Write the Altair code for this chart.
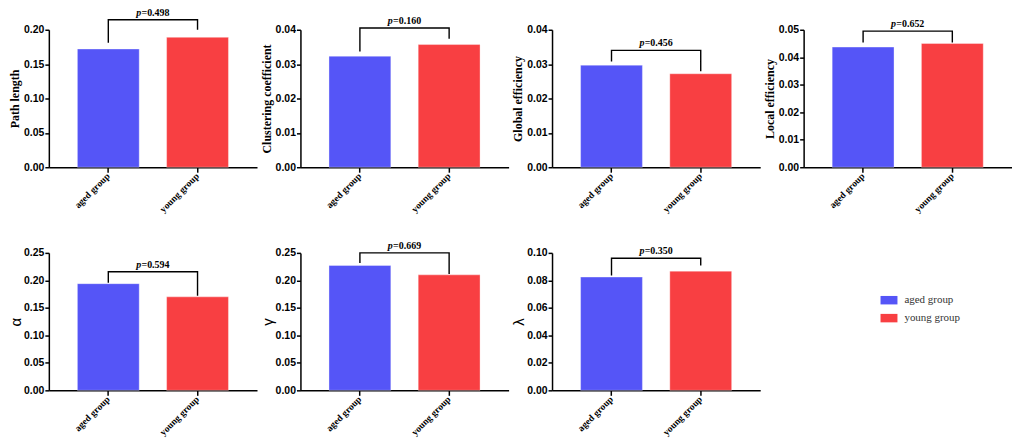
import altair as alt
import pandas as pd
import numpy as np

groups = ["aged group", "young group"]
colors = ["#5555F7", "#F83F42"]

titles = ["Path length", "Clustering coefficient", "Global efficiency", "Local efficiency", "α", "γ", "λ"]
aged = [0.172, 0.0323, 0.0297, 0.0437, 0.194, 0.227, 0.0824]
young = [0.189, 0.0357, 0.0272, 0.0450, 0.170, 0.210, 0.0867]
p_values = ["0.498", "0.160", "0.456", "0.652", "0.594", "0.669", "0.350"]
y_max = [0.20, 0.04, 0.04, 0.05, 0.25, 0.25, 0.10]
y_step = [0.05, 0.01, 0.01, 0.01, 0.05, 0.05, 0.02]
bracket_top = [0.2145, 0.0405, 0.0340, 0.0495, 0.2157, 0.2500, 0.0961]
bracket_left = [0.181, 0.0337, 0.0308, 0.0454, 0.1959, 0.2314, 0.0836]
bracket_right = [0.200, 0.0374, 0.0279, 0.0454, 0.1719, 0.2115, 0.0908]

SERIF = "Liberation Serif"
SANS = "Liberation Sans"

panels = []
for i in range(7):
    bars_df = pd.DataFrame({"group": groups, "value": [aged[i], young[i]]})
    br_df = pd.DataFrame({
        "group": [groups[0], groups[0], groups[1], groups[1]],
        "value": [bracket_left[i], bracket_top[i], bracket_top[i], bracket_right[i]],
        "k": [0, 1, 2, 3],
    })
    p_df = pd.DataFrame({"group": [groups[0]], "value": [bracket_top[i]], "label": ["=" + p_values[i]]})

    greek = len(titles[i]) == 1
    ticks = [round(v, 4) for v in np.arange(0, y_max[i] + y_step[i] / 2, y_step[i])]

    xenc = alt.X(
        "group:N",
        scale=alt.Scale(domain=groups, paddingInner=0.307, paddingOuter=0.32),
        axis=alt.Axis(
            title=None, labelAngle=-45, labelAlign="right", labelBaseline="middle",
            labelFont=SERIF, labelFontWeight="bold", labelFontSize=9.5,
            tickSize=5, labelPadding=2,
        ),
    )
    yaxis_kwargs = dict(
        values=ticks, format=".2f", title=titles[i],
        labelFont=SANS, labelFontWeight="bold", labelFontSize=10.5,
        tickSize=4, labelPadding=1,
    )
    if greek:
        yaxis_kwargs.update(titleFont=SANS, titleFontWeight="normal", titleFontSize=15, titlePadding=0)
    else:
        yaxis_kwargs.update(titleFont=SERIF, titleFontWeight="bold", titleFontSize=12, titlePadding=2)
    yenc = alt.Y("value:Q", scale=alt.Scale(domain=[0, y_max[i]], nice=False, zero=True),
                 axis=alt.Axis(**yaxis_kwargs))

    bars = alt.Chart(bars_df).mark_bar(
        stroke="white", strokeOpacity=0.35, strokeWidth=1
    ).encode(
        x=xenc, y=yenc,
        color=alt.Color(
            "group:N",
            scale=alt.Scale(domain=groups, range=colors),
            legend=alt.Legend(
                orient="none", legendX=835, legendY=263, title=None,
                symbolType="M-1,-0.5H1V0.5H-1Z", symbolSize=289, symbolStrokeWidth=0,
                labelFont=SERIF, labelFontSize=11, labelColor="#333333",
                rowPadding=4, labelOffset=7, padding=0,
            ),
        ),
    )
    bracket = alt.Chart(br_df).mark_line(color="black", strokeWidth=1.4).encode(
        x=xenc, y=yenc, order="k:Q"
    )
    ptxt = alt.Chart(p_df).mark_text(
        text="p", font=SERIF, fontStyle="italic", fontWeight="bold", fontSize=10,
        align="right", baseline="alphabetic", dx=33, dy=-4, color="black",
    ).encode(x=xenc, y=yenc)
    vtxt = alt.Chart(p_df).mark_text(
        font=SERIF, fontWeight="bold", fontSize=10,
        align="left", baseline="alphabetic", dx=33.3, dy=-4, color="black",
    ).encode(x=xenc, y=yenc, text="label:N")

    panels.append(alt.layer(bars, bracket, ptxt, vtxt).properties(width=209, height=138))

chart = alt.concat(
    *panels, columns=4, spacing={"row": 86, "column": 43.6}, bounds="flush"
).properties(
    padding={"left": 0, "top": -2, "right": 0, "bottom": 0}
).configure_view(stroke=None).configure_axis(
    domainColor="black", tickColor="black", labelColor="black", titleColor="black",
    grid=False, domainWidth=1.5, tickWidth=1.5,
)

chart.save("out.html", embed_options={"renderer": "svg", "actions": False})
